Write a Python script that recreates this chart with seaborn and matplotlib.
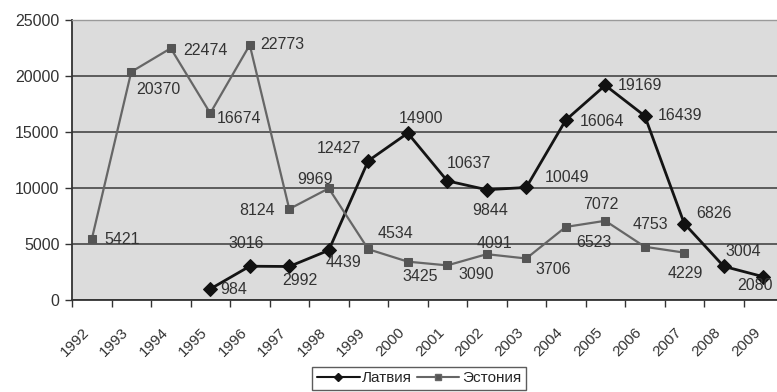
import matplotlib
matplotlib.use("Agg")
import matplotlib.pyplot as plt
import matplotlib.transforms as mtransforms
import seaborn as sns
import pandas as pd
import numpy as np

years = list(range(1992, 2010))

latvia_years = [1995, 1996, 1997, 1998, 1999, 2000, 2001, 2002, 2003,
                2004, 2005, 2006, 2007, 2008, 2009]
latvia_values = [984, 3016, 2992, 4439, 12427, 14900, 10637, 9844, 10049,
                 16064, 19169, 16439, 6826, 3004, 2080]

estonia_years = [1992, 1993, 1994, 1995, 1996, 1997, 1998, 1999, 2000,
                 2001, 2002, 2003, 2004, 2005, 2006, 2007]
estonia_values = [5421, 20370, 22474, 16674, 22773, 8124, 9969, 4534, 3425,
                  3090, 4091, 3706, 6523, 7072, 4753, 4229]

# value-label offsets in pixels (dx, dy) around each point
latvia_offsets = [(23, -1), (-4, 23), (11, -14), (15, -12), (-29, 12),
                  (13, 15), (22, 17), (3, -21), (41, 10), (36, -1),
                  (35, 0), (35, 0), (30, 10), (20, 15), (-8, -9)]
estonia_offsets = [(30, 0), (27, -18), (35, -2), (29, -5), (33, 0),
                   (-32, -1), (-14, 9), (27, 16), (12, -15), (29, -9),
                   (8, 11), (27, -11), (28, -16), (-4, 16), (6, 22), (1, -21)]

df = pd.concat([
    pd.DataFrame({"pos": [years.index(y) for y in latvia_years],
                  "value": latvia_values, "country": "Латвия"}),
    pd.DataFrame({"pos": [years.index(y) for y in estonia_years],
                  "value": estonia_values, "country": "Эстония"}),
], ignore_index=True)

sns.set_theme(style="white")
plt.rcParams["font.family"] = ["Liberation Sans", "DejaVu Sans"]

W, H = 777, 392
fig = plt.figure(figsize=(W / 100, H / 100), dpi=100)
ax = fig.add_axes([72 / W, (H - 300) / H, 711 / W, 280 / H])
ax.set_facecolor("#dcdcdc")

palette = {"Латвия": "#141414", "Эстония": "#666666"}
sns.lineplot(data=df, x="pos", y="value", hue="country", style="country",
             palette=palette, markers={"Латвия": "D", "Эстония": "s"},
             dashes=False, ax=ax, legend=False, zorder=3)
for line in ax.lines:
    c = line.get_color()
    if c == palette["Латвия"]:
        line.set_linewidth(2.0)
        line.set_markersize(7)
        line.set_markerfacecolor("#111111")
        line.set_markeredgecolor("#111111")
    else:
        line.set_linewidth(1.6)
        line.set_markersize(5.5)
        line.set_markerfacecolor("#555555")
        line.set_markeredgecolor("#555555")

# value labels
for yrs, vals, offs in ((latvia_years, latvia_values, latvia_offsets),
                        (estonia_years, estonia_values, estonia_offsets)):
    for yr, v, (dx, dy) in zip(yrs, vals, offs):
        ax.annotate(str(v), (years.index(yr), v), xytext=(dx, dy),
                    textcoords="offset pixels", ha="center", va="center",
                    fontsize=11.5, color="#333333", zorder=4)

ax.set_xlim(-0.5, len(years) - 0.5)
ax.set_ylim(0, 25000)
ax.set_yticks(range(0, 25001, 5000))
ax.yaxis.grid(True, color="#3a3a3a", linewidth=1.1)
ax.set_axisbelow(True)
ax.set_xlabel("")
ax.set_ylabel("")

ax.set_xticks(np.arange(-0.5, len(years), 1.0))
ax.set_xticklabels([])
ax.set_xticks(range(len(years)), minor=True)
ax.set_xticklabels([str(y) for y in years], minor=True, rotation=45,
                   ha="right", fontsize=11, color="#333333")
offset = mtransforms.ScaledTranslation(-7 / 100, 0, fig.dpi_scale_trans)
for lbl in ax.get_xticklabels(minor=True):
    lbl.set_transform(lbl.get_transform() + offset)

ax.tick_params(axis="x", which="major", direction="out", length=5,
               width=1, color="#333333", bottom=True)
ax.tick_params(axis="x", which="minor", length=5, width=0, pad=13)
ax.tick_params(axis="y", direction="out", length=5, width=1,
               color="#333333", left=True, labelsize=11.5,
               labelcolor="#333333", pad=4)

for side in ("left", "bottom"):
    ax.spines[side].set_color("#333333")
    ax.spines[side].set_linewidth(1.3)
ax.spines["top"].set_color("#9a9a9a")
ax.spines["top"].set_linewidth(1.0)
ax.spines["right"].set_visible(False)

handles = [
    plt.Line2D([], [], color="#141414", marker="D", markersize=4,
               linewidth=1.5, label="Латвия"),
    plt.Line2D([], [], color="#666666", marker="s", markersize=4,
               markerfacecolor="#555555", linewidth=1.5, label="Эстония"),
]
leg = fig.legend(handles=handles, loc="lower center",
                 bbox_to_anchor=(419 / W, 2 / H), ncol=2, frameon=True,
                 fancybox=False, fontsize=11, handlelength=2.8,
                 handletextpad=0.15, columnspacing=0.3, borderpad=0.3,
                 borderaxespad=0)
leg.get_frame().set_edgecolor("#333333")
leg.get_frame().set_linewidth(1.0)

fig.savefig("out.png", dpi=100)
